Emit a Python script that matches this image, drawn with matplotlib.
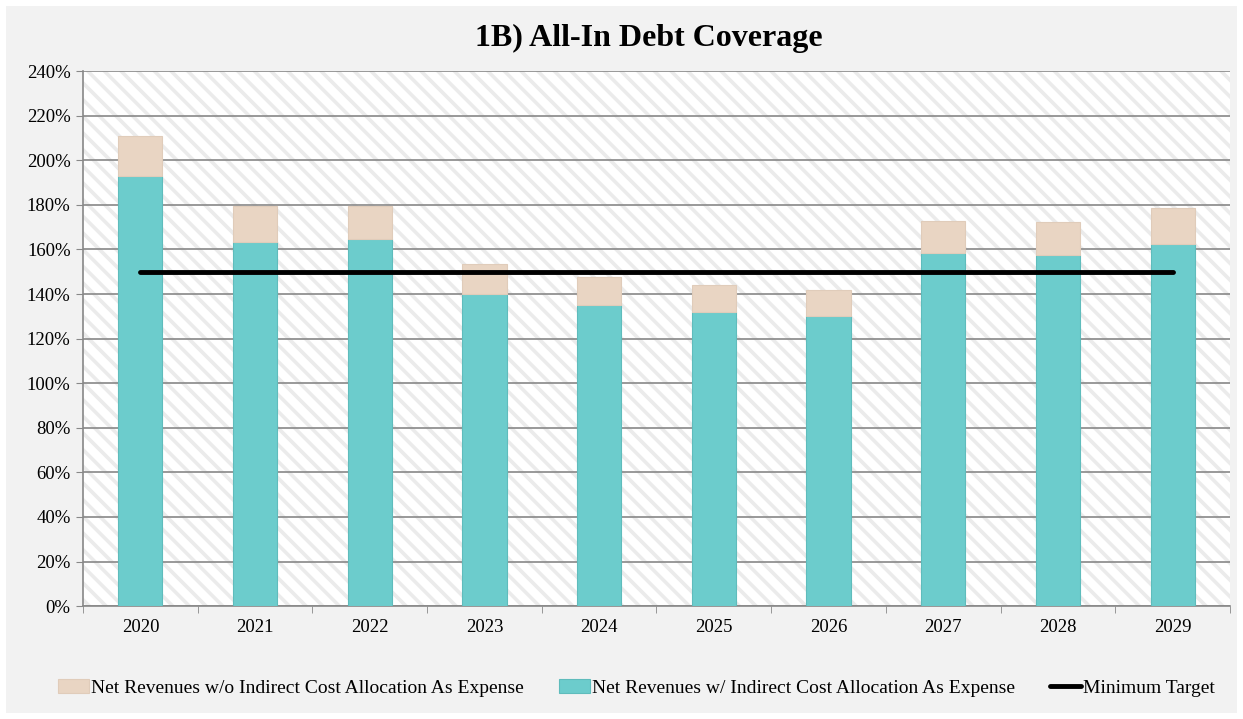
from matplotlib import pyplot as plt
from matplotlib.patches import Rectangle
import matplotlib
import numpy as np

font = {'family': 'Liberation Serif',
        'size': 13.5}
matplotlib.rc('font', **font)
matplotlib.rcParams['hatch.color'] = '#ebebeb'
matplotlib.rcParams['hatch.linewidth'] = 2.6

years = ['2020', '2021', '2022', '2023', '2024', '2025', '2026', '2027', '2028', '2029']
with_alloc = [193, 163.5, 164.5, 140, 135, 132, 130, 158.5, 157.5, 162.5]
without_alloc = [211, 179.5, 179.5, 153.5, 147.5, 144, 142, 173, 172.5, 178.5]
min_target = [150] * 10

extra = np.array(without_alloc) - np.array(with_alloc)
x = np.arange(len(years))

fig = plt.figure(figsize=(12.43, 7.19), dpi=100, facecolor='white')
fig.patches.append(Rectangle((0.005, 0.008), 0.99, 0.984, transform=fig.transFigure,
                             facecolor='#f2f2f2', edgecolor='none', zorder=-10))

ax = fig.add_axes([0.0668, 0.157, 0.9227, 0.744])
ax.set_facecolor('white')
ax.patch.set_hatch('\\\\')
ax.patch.set_edgecolor('#ebebeb')
ax.patch.set_linewidth(0)

w = 0.385
b1 = ax.bar(x, with_alloc, width=w, color='#6ccccc', edgecolor='#5fbcbc', linewidth=0.8, zorder=3,
            label='Net Revenues w/ Indirect Cost Allocation As Expense')
b2 = ax.bar(x, extra, bottom=with_alloc, width=w, color='#e9d5c3', edgecolor='#e0ccba', linewidth=0.8,
            zorder=3, label='Net Revenues w/o Indirect Cost Allocation As Expense')
ln, = ax.plot(x, min_target, color='black', lw=3.5, solid_capstyle='round', zorder=4,
              label='Minimum Target')

ax.set_xlim(-0.5, len(years) - 0.5)
ax.set_ylim(0, 240)
ax.set_yticks(np.arange(0, 241, 20))
ax.set_yticklabels([f'{v}%' for v in range(0, 241, 20)])
ax.set_xticks(x)
ax.set_xticklabels(years)
ax.set_xticks(np.arange(-0.5, len(years), 1), minor=True)
ax.tick_params(axis='x', which='major', length=0, pad=9)
ax.tick_params(axis='x', which='minor', length=5, color='#888888')
ax.tick_params(axis='y', length=5, color='#888888', pad=4)
ax.grid(axis='y', color='#888888', lw=1.2, zorder=1)
ax.set_axisbelow(True)

for s in ['top', 'right']:
    ax.spines[s].set_visible(False)
for s in ['left', 'bottom']:
    ax.spines[s].set_color('#888888')
    ax.spines[s].set_linewidth(1.2)

fig.text(0.522, 0.946, '1B) All-In Debt Coverage', ha='center', va='center',
         fontsize=23, fontweight='bold')

fig.legend([b2, b1, ln], [b2.get_label(), b1.get_label(), ln.get_label()],
           loc='center', bbox_to_anchor=(0.512, 0.043), ncol=3, frameon=False,
           handlelength=1.6, handletextpad=0.1, columnspacing=1.8, fontsize=14)

plt.savefig('out.png', dpi=100, facecolor=fig.get_facecolor())
